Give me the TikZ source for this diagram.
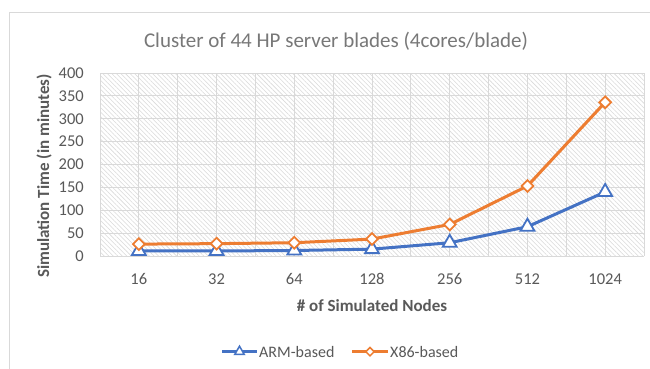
\documentclass[tikz,border=0pt]{standalone}
\usepackage{fontspec}
\setmainfont{Carlito}
\usetikzlibrary{shapes.geometric,patterns.meta,calc}
\definecolor{armblue}{HTML}{4472C4}
\definecolor{xorange}{HTML}{ED7D31}
\definecolor{txtgray}{HTML}{595959}
\definecolor{titlegray}{HTML}{787878}
\definecolor{gridgray}{HTML}{D9D9D9}
\definecolor{hatchgray}{HTML}{DADADA}
\tikzset{
  frame/.style={draw=gridgray, line width=1pt},
  gridline/.style={draw=gridgray, line width=0.9pt},
  ticklabel/.style={text=txtgray, font=\fontsize{16.5}{18}\selectfont, inner sep=0pt},
  axistitle/.style={text=txtgray, font=\fontsize{17}{19}\selectfont\bfseries, inner sep=0pt},
  charttitle/.style={text=titlegray, font=\fontsize{21}{23}\selectfont, inner sep=0pt},
  legendtext/.style={text=txtgray, font=\fontsize{16}{18}\selectfont, inner sep=0pt, anchor=west},
  armline/.style={draw=armblue, line width=3pt, line join=round},
  x86line/.style={draw=xorange, line width=3pt, line join=round},
  armmark/.style={regular polygon, regular polygon sides=3, draw=armblue, fill=white,
    line width=1.8pt, inner sep=0pt, minimum size=16pt},
  x86mark/.style={diamond, draw=xorange, fill=white, line width=1.8pt, inner sep=0pt,
    minimum width=12.5pt, minimum height=12.5pt},
  armlegmark/.style={armmark, minimum size=11pt, line width=1.5pt},
  x86legmark/.style={x86mark, minimum width=9pt, minimum height=9pt, line width=1.5pt},
}
\begin{document}
\begin{tikzpicture}[x=1pt, y=-1pt]
  \useasboundingbox (0,0) rectangle (650,369);
  \fill[white] (0,0) rectangle (650,369);

  % chart frame (left and top edges)
  \draw[frame] (9,369) -- (9,13) -- (650,13);

  % plot area: hatched background
  \path[pattern={Lines[angle=-45, distance=3.2pt, line width=0.55pt]}, pattern color=hatchgray]
    (100,73) rectangle (644,256);

  % horizontal gridlines every 50 minutes, with value labels
  \foreach \v in {0,50,...,400} {
    \coordinate (gy\v) at (100,{256-0.4575*\v});
    \draw[gridline] (gy\v) -- ++(544,0);
    \node[ticklabel, anchor=east] (ylab\v) at ([xshift=-16pt]gy\v) {\v};
  }
  % vertical gridlines every half category
  \foreach \k in {0,...,14} {
    \coordinate (gx\k) at ({100+38.857*\k},73);
    \draw[gridline] (gx\k) -- ++(0,183);
  }

  % category labels
  \foreach \c [count=\i from 0] in {16,32,64,128,256,512,1024} {
    \node[ticklabel] (xlab\i) at ({100+77.714*(\i+0.5)},279) {\c};
  }

  % data points
  \foreach \v [count=\i from 0] in {11,11,12,15,29,64,140} {
    \coordinate (arm\i) at ({100+77.714*(\i+0.5)},{256-0.4575*\v});
  }
  \foreach \v [count=\i from 0] in {26,27,29,37,69,153,336} {
    \coordinate (x86\i) at ({100+77.714*(\i+0.5)},{256-0.4575*\v});
  }

  % series lines
  \draw[armline] (arm0) -- (arm1) -- (arm2) -- (arm3) -- (arm4) -- (arm5) -- (arm6);
  \draw[x86line] (x860) -- (x861) -- (x862) -- (x863) -- (x864) -- (x865) -- (x866);

  % markers
  \foreach \i in {0,...,6} {
    \node[armmark] (armm\i) at (arm\i) {};
    \node[x86mark] (x86m\i) at (x86\i) {};
  }

  % titles
  \node[charttitle] (title) at (336,41) {Cluster of 44 HP server blades (4cores/blade)};
  \node[axistitle] (xtitle) at (372,306) {\# of Simulated Nodes};
  \node[axistitle, rotate=90] (ytitle) at (44,176) {Simulation Time (in minutes)};

  % legend
  \coordinate (la0) at (222,351.7);
  \coordinate (la1) at (257,351.7);
  \draw[armline, line width=2.6pt] (la0) -- (la1);
  \node[armlegmark] (lam) at ($(la0)!0.5!(la1)$) {};
  \node[legendtext] (lat) at (259,351.7) {ARM-based};
  \coordinate (lx0) at (352,351.7);
  \coordinate (lx1) at (388,351.7);
  \draw[x86line, line width=2.6pt] (lx0) -- (lx1);
  \node[x86legmark] (lxm) at ($(lx0)!0.5!(lx1)$) {};
  \node[legendtext] (lxt) at (390,351.7) {X86-based};
\end{tikzpicture}
\end{document}
